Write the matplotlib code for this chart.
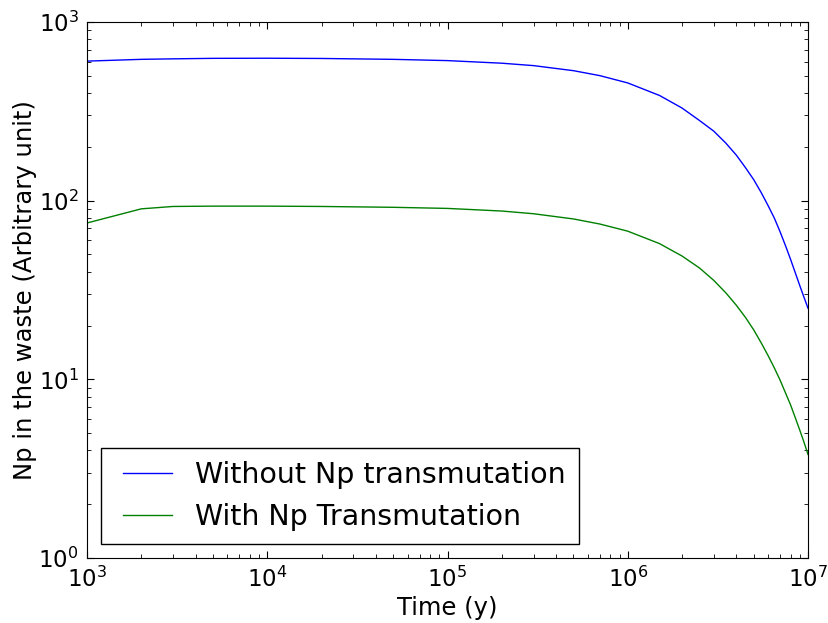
import matplotlib
matplotlib.use('Agg')
import matplotlib.pyplot as plt
from matplotlib.legend_handler import HandlerLine2D

# Time points (years)
years = [1e3, 2e3, 3e3, 5e3, 1e4, 2e4, 5e4, 1e5, 2e5, 3e5, 5e5, 7e5,
         1e6, 1.5e6, 2e6, 2.5e6, 3e6, 3.5e6, 4e6, 4.5e6, 5e6, 5.5e6,
         6e6, 6.5e6, 7e6, 7.5e6, 8e6, 8.5e6, 9e6, 9.5e6, 1e7]

# Np in the waste
np_without = [604, 618, 622, 626, 627, 625, 618, 608, 588, 570, 534, 501,
              456, 388, 330, 281, 245, 210, 180, 153, 131, 111,
              94, 80, 67, 56, 47, 39.5, 33.5, 28.8, 25]
np_with = [75, 90, 92.8, 93.2, 93.2, 92.8, 91.8, 90.5, 87.5, 84.5, 79, 74,
           67.5, 57.5, 49, 42, 35.8, 30.5, 26, 22.2, 18.9, 16,
           13.6, 11.6, 9.9, 8.4, 7.2, 6.1, 5.2, 4.45, 3.8]

labels = ['Without Np transmutation', 'With Np Transmutation']

plt.rcParams['mathtext.default'] = 'regular'

fig = plt.figure(figsize=(8.29, 6.23), dpi=100)
ax = fig.add_axes([87/829, 1 - 558/623, (808 - 87)/829, (558 - 22)/623])

l1, = ax.plot(years, np_without, color='b', lw=1, label=labels[0])
l2, = ax.plot(years, np_with, color=(0, 0.5, 0), lw=1, label=labels[1])

ax.set_xscale('log')
ax.set_yscale('log')
ax.set_xlim(1e3, 1e7)
ax.set_ylim(1, 1e3)

ax.tick_params(which='both', direction='in', top=True, right=True,
               labelsize=16.5, pad=6)
ax.tick_params(which='major', length=5, width=0.8)
ax.tick_params(which='minor', length=2.8, width=0.6)

ax.set_xlabel('Time (y)', fontsize=17.5, labelpad=3)
ax.set_ylabel('Np in the waste (Arbitrary unit)', fontsize=17.5, labelpad=1)

hmap = {l1: HandlerLine2D(xpad=0.33), l2: HandlerLine2D(xpad=0.33)}
leg = ax.legend(loc='lower left', fontsize=20.5, handlelength=2.05,
                handletextpad=0.8, borderpad=0.45, labelspacing=0.5,
                borderaxespad=0.5, fancybox=False, framealpha=1,
                handler_map=hmap)
leg.get_frame().set_edgecolor('black')
leg.get_frame().set_linewidth(1)

fig.savefig('out.png', dpi=100)
